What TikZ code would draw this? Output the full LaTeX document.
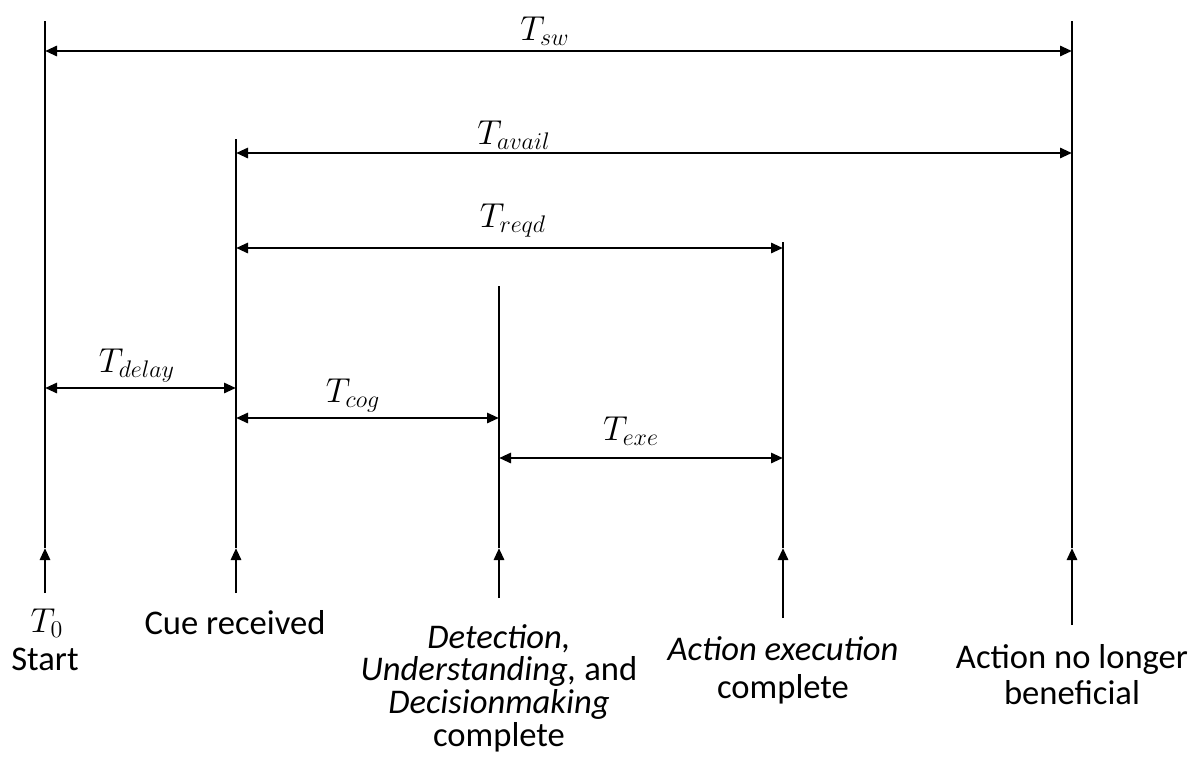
\documentclass[tikz,border=0pt]{standalone}
\usepackage{fontspec}
\setmainfont{Carlito}
\usetikzlibrary{arrows.meta}
\begin{document}
\begin{tikzpicture}[x=0.5pt,y=-0.5pt,line width=1.4pt,
  dim/.style={{Triangle[length=6pt,width=5pt]}-{Triangle[length=6pt,width=5pt]}},
  up/.style={-{Triangle[length=6pt,width=5pt]}},
  mlab/.style={anchor=base,inner sep=0pt,font=\fontsize{17}{20}\selectfont},
  tlab/.style={anchor=base,inner sep=0pt,font=\fontsize{17.3}{20}\selectfont}]
\useasboundingbox (0,0) rectangle (1193,771);
% vertical time lines
\coordinate (s0) at (45,21);    \coordinate (e0) at (45,548);
\coordinate (s1) at (236,139);  \coordinate (e1) at (236,548);
\coordinate (s2) at (499,286);  \coordinate (e2) at (499,548);
\coordinate (s3) at (783,242);  \coordinate (e3) at (783,548);
\coordinate (s4) at (1072,21);  \coordinate (e4) at (1072,548);
\draw (s0) -- (e0);
\draw (s1) -- (e1);
\draw (s2) -- (e2);
\draw (s3) -- (e3);
\draw (s4) -- (e4);
% bottom pointer arrows
\coordinate (b0) at (45,593);
\coordinate (b1) at (236,593);
\coordinate (b2) at (499,598);
\coordinate (b3) at (783,618);
\coordinate (b4) at (1072,625);
\draw[up] (b0) -- (e0);
\draw[up] (b1) -- (e1);
\draw[up] (b2) -- (e2);
\draw[up] (b3) -- (e3);
\draw[up] (b4) -- (e4);
% dimension arrows
\coordinate (swL) at (45,51);    \coordinate (swR) at (1072,51);
\coordinate (avL) at (236,153);  \coordinate (avR) at (1072,153);
\coordinate (rqL) at (236,248);  \coordinate (rqR) at (783,248);
\coordinate (dlL) at (45,388);   \coordinate (dlR) at (236,388);
\coordinate (cgL) at (236,418);  \coordinate (cgR) at (499,418);
\coordinate (exL) at (499,458);  \coordinate (exR) at (783,458);
\draw[dim] (swL) -- (swR);
\draw[dim] (avL) -- (avR);
\draw[dim] (rqL) -- (rqR);
\draw[dim] (dlL) -- (dlR);
\draw[dim] (cgL) -- (cgR);
\draw[dim] (exL) -- (exR);
% dimension labels
\node[mlab] (tsw) at (545,40) {$T_{sw}$};
\node[mlab] (tav) at (514,144) {$T_{avail}$};
\node[mlab] (trq) at (513,227) {$T_{reqd}$};
\node[mlab] (tdl) at (137,372) {$T_{delay}$};
\node[mlab] (tcg) at (353,402) {$T_{cog}$};
\node[mlab] (tex) at (631,440) {$T_{exe}$};
% bottom labels
\node[mlab] (l0a) at (47,632) {$T_0$};
\node[tlab] (l0b) at (45,670) {Start};
\node[tlab] (l1) at (235,634) {Cue received};
\node[tlab] (l2a) at (499,648) {\itshape Detection,};
\node[tlab] (l2b) at (499,680) {\textit{Understanding,} and};
\node[tlab] (l2c) at (499,713) {\itshape Decisionmaking};
\node[tlab] (l2d) at (499,746) {complete};
\node[tlab] (l3a) at (783,660) {\itshape Action execution};
\node[tlab] (l3b) at (783,698) {complete};
\node[tlab] (l4a) at (1072,668) {Action no longer};
\node[tlab] (l4b) at (1072,704) {beneficial};
\end{tikzpicture}
\end{document}
